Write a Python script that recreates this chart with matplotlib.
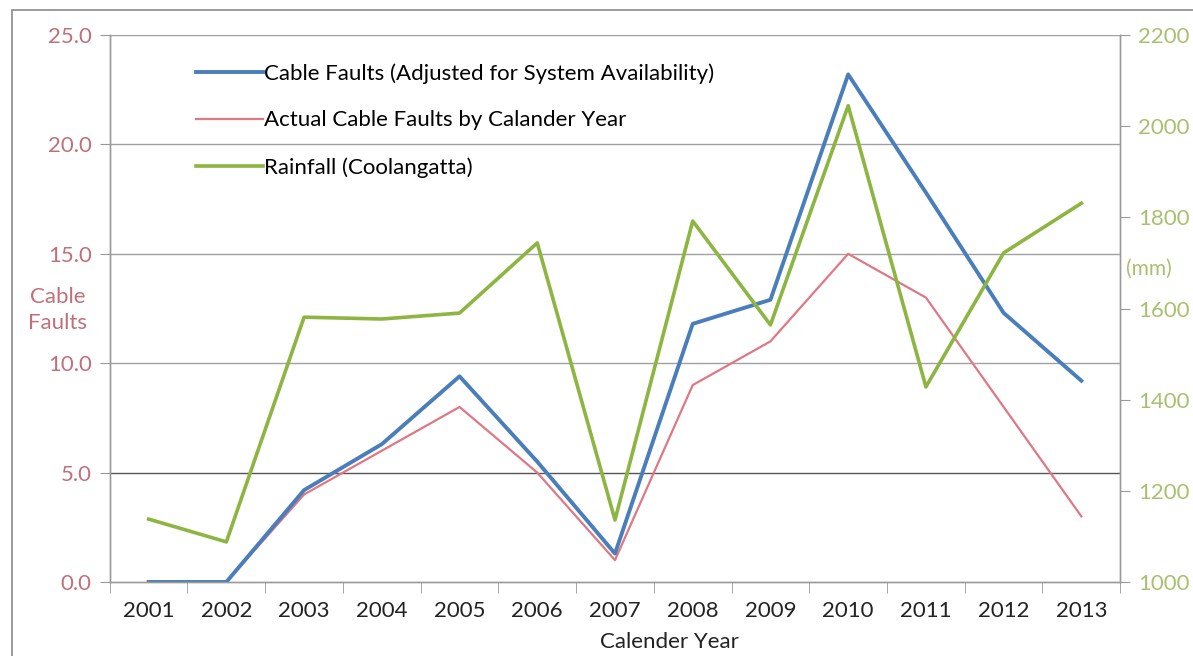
import numpy as np
import matplotlib.pyplot as plt
from matplotlib.patches import Rectangle

plt.rcParams['font.family'] = ['Lato', 'DejaVu Sans']

years = ['2001', '2002', '2003', '2004', '2005', '2006', '2007',
         '2008', '2009', '2010', '2011', '2012', '2013']
adjusted = [0.0, 0.0, 4.2, 6.3, 9.4, 5.5, 1.3, 11.8, 12.9, 23.2, 17.8, 12.3, 9.2]
actual = [0.0, 0.0, 4.0, 6.0, 8.0, 5.0, 1.0, 9.0, 11.0, 15.0, 13.0, 8.0, 3.0]
rainfall = [1138, 1088, 1581, 1577, 1590, 1744, 1136, 1792, 1564, 2045, 1428, 1722, 1831]

blue = '#4a7ebb'
red = '#de7884'
green = '#8cb541'
left_col = '#c0707a'
right_col = '#a9c06e'

fig = plt.figure(figsize=(11.93, 6.56), dpi=100)
ax = fig.add_axes([0.092, 0.1128, 0.847, 0.8338])
ax2 = ax.twinx()

x = np.arange(len(years))
l1, = ax.plot(x, adjusted, color=blue, lw=2.8, label='Cable Faults (Adjusted for System Availability)', zorder=4)
l2, = ax.plot(x, actual, color=red, lw=1.6, label='Actual Cable Faults by Calander Year', zorder=3)
l3, = ax2.plot(x, rainfall, color=green, lw=2.6, label='Rainfall (Coolangatta)')

ax.set_xlim(-0.5, len(years) - 0.5)
ax.set_ylim(0, 25)
ax2.set_ylim(1000, 2200)

ax.set_xticks(x)
ax.set_xticklabels(years, fontsize=16, color='#222222')
ax.set_xticks(np.arange(-0.5, len(years), 1.0), minor=True)
ax.tick_params(axis='x', which='major', length=0, pad=14)
ax.tick_params(axis='x', which='minor', length=8, color='#999999')

ax.set_yticks(np.arange(0, 26, 5))
ax.set_yticklabels([f'{v:.1f}' for v in np.arange(0, 26, 5)], fontsize=16, color=left_col)
ax.tick_params(axis='y', length=7, color='#999999', pad=6)
ax2.set_yticks(np.arange(1000, 2201, 200))
ax2.set_yticklabels([str(v) for v in range(1000, 2201, 200)], fontsize=16, color=right_col)
ax2.tick_params(axis='y', length=7, color='#999999', pad=6)

for v in [10, 15, 20, 25]:
    ax.axhline(v, color='#a0a0a0', lw=1.0, zorder=1)
ax.axhline(5, color='#555555', lw=1.0, zorder=1)

for a in (ax, ax2):
    a.spines['top'].set_visible(False)
    for s in ('left', 'right', 'bottom'):
        a.spines[s].set_color('#9a9a9a')
        a.spines[s].set_linewidth(1.0)

ax.set_xlabel('Calender Year', fontsize=16, color='#222222')
ax.xaxis.set_label_coords(0.554, -0.092)

fig.text(0.048, 0.527, 'Cable\nFaults', fontsize=16, color=left_col,
         ha='center', va='center', linespacing=1.4)
fig.text(0.963, 0.59, '(mm)', fontsize=15, color=right_col, ha='center', va='center')

ax.legend(handles=[l1, l2, l3], loc='upper left', bbox_to_anchor=(0.066, 0.985),
          frameon=False, fontsize=16, handlelength=3.0, handletextpad=0.05,
          labelspacing=1.2)

fig.patches.append(Rectangle((12 / 1193, -0.1), 1.2, 1.1 - 10 / 656,
                             transform=fig.transFigure, fill=False,
                             edgecolor='#8a8a8a', lw=1.2))

fig.savefig('out.png', dpi=100)
